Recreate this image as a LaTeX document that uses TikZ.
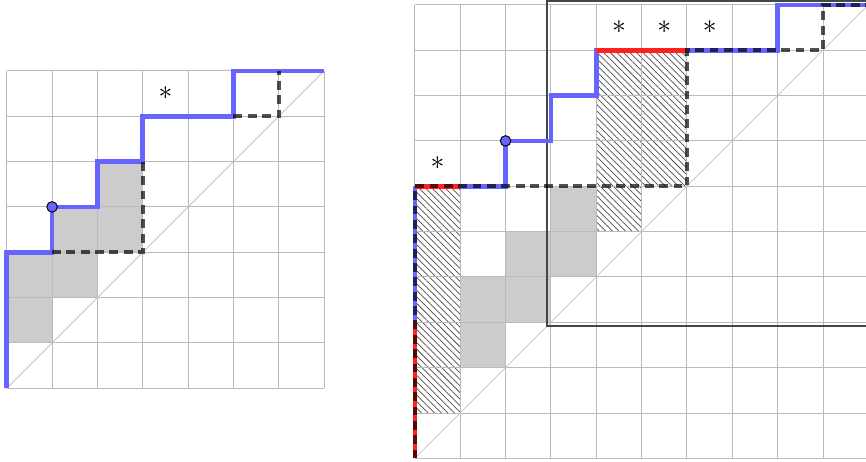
\documentclass[tikz,border=0pt]{standalone}
\usetikzlibrary{patterns.meta}
\definecolor{bluec}{RGB}{102,102,255}
\definecolor{redc}{RGB}{255,32,32}
\definecolor{gridc}{RGB}{186,186,186}
\definecolor{diagc}{RGB}{195,195,195}
\definecolor{boxc}{RGB}{70,70,70}
\tikzset{
  gridline/.style={draw=gridc, line width=0.6pt},
  diagline/.style={draw=diagc, line width=0.45pt},
  bluepath/.style={draw=bluec, line width=2.9pt},
  redpath/.style={draw=redc, line width=2.9pt},
  dashpath/.style={draw=black, draw opacity=0.68, line width=2.4pt, dash pattern=on 5.5pt off 3.5pt},
  graycell/.style={fill=black!20},
  hatchcell/.style={pattern={Lines[angle=-45,distance=2.9pt,line width=0.45pt]}, pattern color=black!70},
  pathdot/.style={circle, fill=bluec, draw=black, line width=0.6pt, inner sep=0pt, minimum size=6.6pt},
  starmark/.style={inner sep=0pt, font=\LARGE},
  frame/.style={draw=boxc, line width=1pt}
}
\begin{document}
\begin{tikzpicture}[x=1cm,y=1cm]
\useasboundingbox (-0.148,-1.625) rectangle (18.948,8.562);
\clip (-0.148,-1.625) rectangle (18.948,8.562);

% ---------- left diagram ----------
\begin{scope}
  \fill[graycell] (0,1) rectangle (1,3) (1,2) rectangle (2,4) (2,3) rectangle (3,5);
  \draw[gridline] (0,0) grid (7,7);
  \draw[diagline] (0,0) -- (7,7);
  \draw[bluepath] (0,0) -- (0,3) -- (1,3) -- (1,4) -- (2,4) -- (2,5) -- (3,5) -- (3,6) -- (5,6) -- (5,7) -- (7,7);
  \draw[dashpath] (1,3) -- (3,3) -- (3,5);
  \draw[dashpath] (5,6) -- (6,6) -- (6,7);
  \node[pathdot] (Ldot) at (1,4) {};
  \node[starmark] (Lstar) at (3.5,6.5) {$\ast$};
\end{scope}

% ---------- right diagram ----------
\begin{scope}[shift={(9,-1.545)}]
  \fill[hatchcell] (0,1) rectangle (1,6) (4,5) rectangle (5,9) (5,6) rectangle (6,9);
  \fill[graycell] (1,2) rectangle (2,4) (2,3) rectangle (3,5) (3,4) rectangle (4,6);
  \draw[gridline] (0,0) grid (10,10);
  \draw[diagline] (0,0) -- (10,10);
  \draw[frame] (2.92,2.92) rectangle (10.08,10.08);
  \draw[bluepath] (0,3) -- (0,6);
  \draw[bluepath] (1,6) -- (2,6) -- (2,7) -- (3,7) -- (3,8) -- (4,8) -- (4,9) -- (6,9) -- (8,9) -- (8,10) -- (10,10);
  \draw[redpath] (0,0) -- (0,3);
  \draw[redpath] (0,6) -- (1,6);
  \draw[redpath] (4,9) -- (6,9);
  \draw[dashpath] (0,0) -- (0,6) -- (6,6) -- (6,9) -- (9,9) -- (9,10) -- (10,10);
  \node[pathdot] (Rdot) at (2,7) {};
  \node[starmark] (Rstar1) at (0.5,6.5) {$\ast$};
  \node[starmark] (Rstar2) at (4.5,9.5) {$\ast$};
  \node[starmark] (Rstar3) at (5.5,9.5) {$\ast$};
  \node[starmark] (Rstar4) at (6.5,9.5) {$\ast$};
\end{scope}
\end{tikzpicture}
\end{document}
